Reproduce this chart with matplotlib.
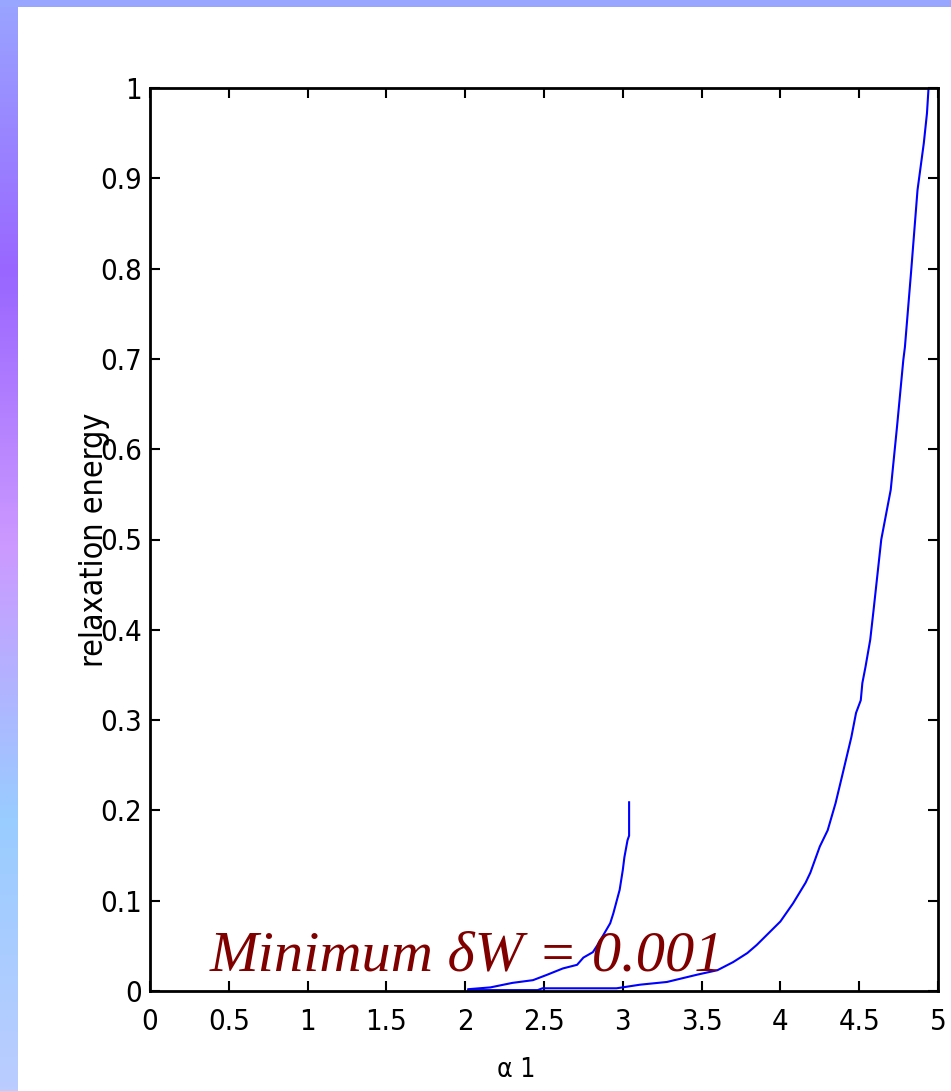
import matplotlib
matplotlib.use('Agg')
from matplotlib import pyplot as plt
from matplotlib import font_manager
from matplotlib.colors import LinearSegmentedColormap
import numpy as np

# curve that stops near alpha = 3
a1_short = [2.02, 2.16, 2.30, 2.43, 2.52, 2.62, 2.71, 2.75, 2.81, 2.84, 2.87,
            2.92, 2.94, 2.98, 3.00, 3.01, 3.03, 3.04, 3.04]
e_short = [0.002, 0.004, 0.009, 0.012, 0.018, 0.025, 0.029, 0.037, 0.043, 0.051,
           0.060, 0.075, 0.086, 0.112, 0.134, 0.148, 0.167, 0.172, 0.209]

# curve that reaches 1
a1_long = [2.02, 2.46, 2.49, 2.96, 3.11, 3.28, 3.47, 3.60, 3.70, 3.79, 3.85,
           4.00, 4.08, 4.16, 4.19, 4.25, 4.30, 4.35, 4.39, 4.42, 4.45, 4.48,
           4.51, 4.52, 4.54, 4.57, 4.59, 4.64, 4.70, 4.74, 4.78, 4.79, 4.83,
           4.87, 4.91, 4.93, 4.94]
e_long = [0.001, 0.001, 0.003, 0.003, 0.007, 0.010, 0.018, 0.023, 0.032, 0.042,
          0.051, 0.077, 0.097, 0.120, 0.131, 0.160, 0.178, 0.208, 0.237, 0.259,
          0.281, 0.308, 0.322, 0.341, 0.359, 0.389, 0.420, 0.500, 0.555, 0.625,
          0.699, 0.713, 0.798, 0.887, 0.939, 0.972, 1.0]

xticks = [0, 0.5, 1, 1.5, 2, 2.5, 3, 3.5, 4, 4.5, 5]
yticks = [0, 0.1, 0.2, 0.3, 0.4, 0.5, 0.6, 0.7, 0.8, 0.9, 1]

# the reference uses a very narrow sans; take a condensed face if one exists
cond = [f for f in font_manager.fontManager.ttflist
        if 'Condensed' in f.fname or 'Narrow' in f.fname or 'Narrow' in f.name]
if cond:
    tickfont = dict(family=[cond[0].name, 'DejaVu Sans'], stretch=cond[0].stretch)
    tsize = 21
else:
    tickfont = dict(family=['Liberation Sans', 'DejaVu Sans'])
    tsize = 19

fig = plt.figure(figsize=(9.51, 10.91), dpi=100)
fig.patch.set_facecolor('white')

# slide decoration: gradient strip on the left, thin band on top
strip_cmap = LinearSegmentedColormap.from_list(
    'strip', ['#99a4ff', '#9966ff', '#cc99ff', '#99ccff', '#bbccff'])
sax = fig.add_axes([0, 0, 18 / 951, 1])
sax.imshow(np.linspace(0, 1, 256).reshape(-1, 1), cmap=strip_cmap,
           aspect='auto', extent=(0, 1, 0, 1), origin='upper')
sax.axis('off')
tax = fig.add_axes([0, 1 - 7 / 1091, 1, 7 / 1091])
tax.set_facecolor('#99a6ff')
tax.set_xticks([])
tax.set_yticks([])
for s in tax.spines.values():
    s.set_visible(False)

ax = fig.add_axes([150 / 951, 1 - 991 / 1091, 788 / 951, 903 / 1091])
ax.plot(a1_short, e_short, color='blue', lw=1.5)
ax.plot(a1_long, e_long, color='blue', lw=1.5)

ax.set_xlim(0, 5)
ax.set_ylim(0, 1)
ax.set_xticks(xticks)
ax.set_xticklabels([f'{v:g}' for v in xticks], fontsize=tsize, **tickfont)
ax.set_yticks(yticks)
ax.set_yticklabels([f'{v:g}' for v in yticks], fontsize=tsize, **tickfont)
ax.tick_params(direction='in', length=7.5, width=1.5, top=True, right=True)
ax.tick_params(axis='x', pad=12)
ax.tick_params(axis='y', pad=6)
for s in ax.spines.values():
    s.set_linewidth(2)

ax.set_xlabel('\u03b1 1', fontsize=tsize - 2, va='top', **tickfont)
ax.xaxis.set_label_coords(366 / 788, -66 / 903)
ax.set_ylabel('relaxation energy', fontsize=tsize + 2, **tickfont)
ax.yaxis.set_label_coords(-40 / 788, 0.5)

ax.text(0.38, 0.023, 'Minimum \u03b4W = 0.001',
        family=['Liberation Serif', 'DejaVu Serif'],
        style='italic', fontsize=42, color='#800000', va='baseline', ha='left')

fig.savefig('out.png', dpi=100)
